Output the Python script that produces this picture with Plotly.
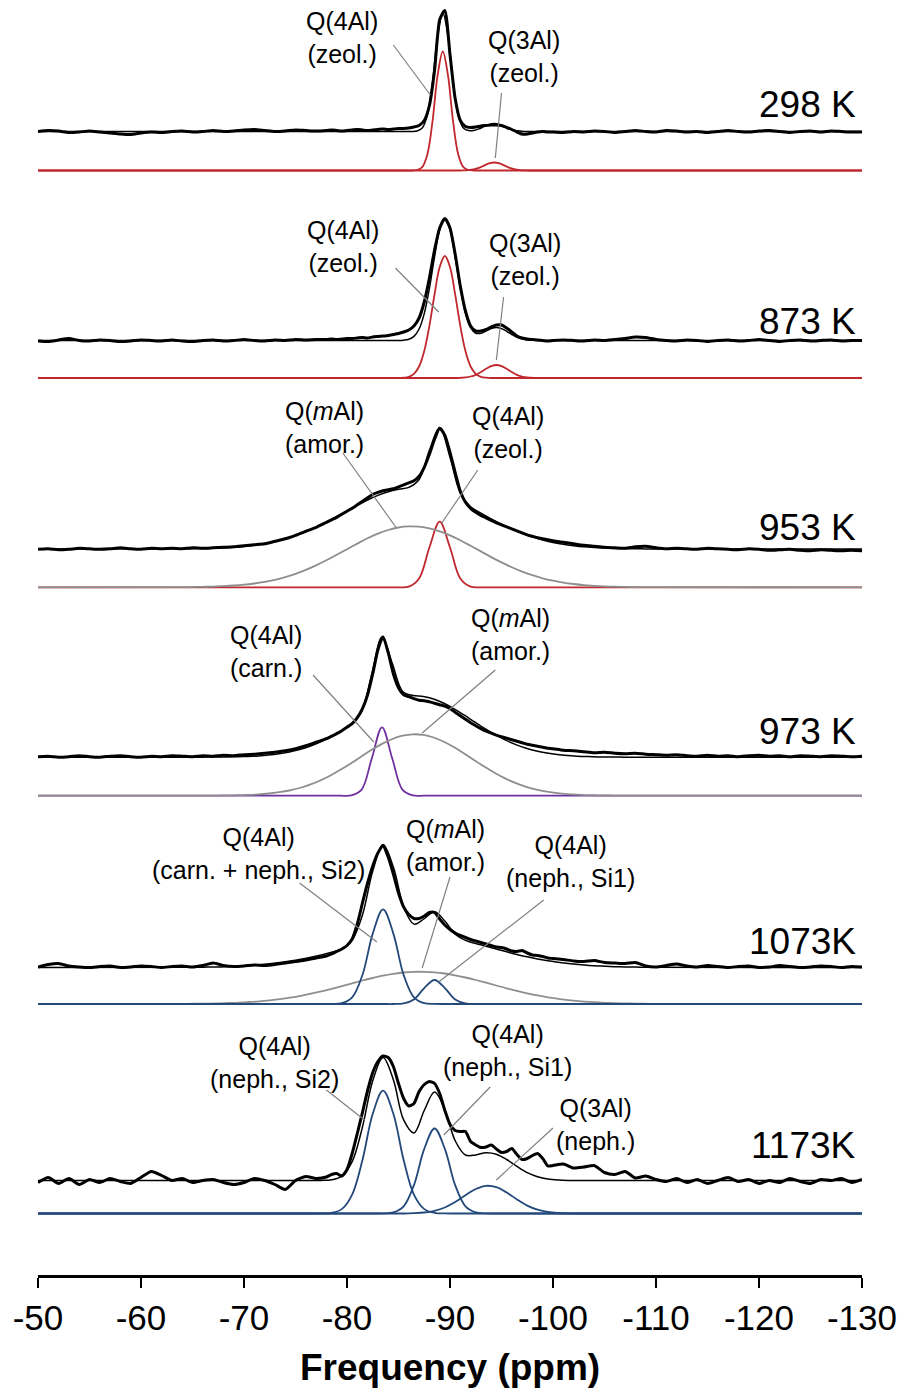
import plotly.graph_objects as go

# ------------------------------------------------------------------ data
X_MIN, X_MAX = -50.0, -130.0
X_TICKS = [-50, -60, -70, -80, -90, -100, -110, -120, -130]
X_TICK_TEXT = ["-50", "-60", "-70", "-80", "-90", "-100", "-110", "-120", "-130"]
TEMPS = ["298 K", "873 K", "953 K", "973 K", "1073K", "1173K"]

# experimental sampling positions (ppm): 1 ppm steps, 0.5 ppm in the peak region
X_EXP = ([-50.0 - i for i in range(28)]
         + [-78.0 - 0.5 * j for j in range(45)]
         + [-101.0 - k for k in range(30)])

EXP_298 = ([39, 40, 39.5, 38, 38.5, 39.5, 38.5, 37.5, 36.5, 36, 37.5, 38.5, 38, 39, 39.5,
            38.5, 39, 40, 39, 39.5, 40.5, 41, 40, 39, 39.5, 40.5, 40, 39.5]
           + [40, 40.5, 40, 39.5, 40, 40.5, 41, 40.5, 40, 40.5, 41, 41.5, 41, 41.5, 42,
              42, 42.5, 43.5, 45, 50, 65, 100, 151, 160, 116, 72, 50, 44, 43, 43.5,
              44.5, 45, 45.5, 45.5, 45, 43, 41, 38.5, 36.5, 36.5, 37.5, 38.5, 39, 38.5, 38.5]
           + [38, 39, 38.5, 39.5, 39, 38, 39, 40, 39, 38.5, 40, 39.5, 38.5, 39, 38,
              39, 40, 39, 38.5, 39.5, 40, 39, 38, 39, 39.5, 38.5, 39.5, 39, 38.5, 38.5])
EXP_873 = ([37, 36.5, 38, 39.5, 37.5, 37, 38, 37.5, 36.5, 37, 38, 37.5, 37, 38, 37,
            36.5, 37.5, 38, 37, 37.5, 38.5, 37.5, 37, 38, 37.5, 38.5, 38, 38.5]
           + [38.5, 39, 38.5, 39, 39.5, 39.5, 40, 40.5, 40, 41, 41.5, 42, 42.5, 43.5, 44.5,
              46, 48, 52, 60, 76, 100, 128, 150, 159.5, 150, 124, 92, 67, 52, 47,
              47, 48.5, 51, 53, 53, 50, 46, 42, 40, 39, 38.5, 38, 37.5, 37, 37.5]
           + [38, 37.5, 37, 38, 37.5, 38.5, 39.5, 41, 40.5, 38.5, 37.5, 37, 38, 37.5, 36.5,
              37.5, 38, 37, 37.5, 38.5, 37.5, 36.5, 37.5, 38, 37, 37.5, 38, 37, 37.5, 37.5])
EXP_953 = ([38, 38.5, 37.5, 38, 39, 38.5, 38, 38.5, 39.5, 38.5, 38, 39, 38.5, 39, 38.5,
            39.5, 39, 39.5, 40, 40.5, 41.5, 42.5, 43.5, 46, 48.5, 52, 56, 60]
           + [65, 67.5, 70, 73, 76, 79, 82.5, 86, 89.5, 93, 95, 96.5, 97.5, 98.5, 100.5,
              102.5, 104.5, 106.5, 111, 120, 133, 148, 159, 152, 135, 115, 96, 85, 79, 75,
              72, 69.5, 67, 64.5, 62.5, 60.5, 58.5, 56.5, 54.5, 52.5, 51, 49.5, 48.5, 47.5, 46.5]
           + [45, 43.5, 42, 41, 40, 39.5, 39, 40.5, 41, 39.5, 38.5, 39, 38.5, 38, 39,
              38.5, 38, 37.5, 38.5, 38, 37, 37.5, 38, 37, 36.5, 37.5, 37, 36.5, 37, 36.5])
EXP_973 = ([39, 39.5, 38.5, 39, 40, 39, 38.5, 39.5, 40, 39, 38.5, 39.5, 39, 40, 39.5,
            39, 40, 39.5, 40.5, 40, 41, 41.5, 42.5, 43.5, 45, 47, 50, 53.5]
           + [57, 59.5, 62, 65, 68.5, 72, 78, 87, 101, 122, 146, 159, 143, 122, 108,
              101, 99, 97, 95.5, 95, 94, 92.5, 91, 89.5, 87, 83.5, 80, 76.5, 73, 70,
              67, 64.5, 62.5, 60.5, 59, 57.5, 56, 54.5, 53, 51.5, 50.5, 49.5, 48.5, 47.5, 47]
           + [45.5, 45, 44, 43, 43.5, 42.5, 42, 42.5, 41.5, 41, 40.5, 41, 40, 39.5, 40.5,
              39.5, 40, 39, 40, 40.5, 39.5, 40, 39, 40, 39.5, 39, 40, 39.5, 39, 39.5])
EXP_1073 = ([37, 39.5, 40.5, 38, 37, 36.5, 37.5, 38, 36.5, 37, 38, 37.5, 36.5, 37.5, 38,
             37, 38.5, 41, 38.5, 37.5, 38, 39, 38.5, 39.5, 41, 42.5, 44, 46]
            + [48, 50, 52.5, 55, 58.5, 65, 80, 101, 121, 138, 151, 158, 147, 130, 111,
               97, 89.5, 85.5, 85.5, 88, 91.5, 91.5, 85, 79, 74.5, 71, 68.5, 66.5, 64.5, 63,
               61.5, 60, 58.5, 57, 56.5, 55, 53, 52.5, 53.5, 51, 49, 48.5, 47.5, 46, 45.5]
            + [44.5, 43, 42.5, 43.5, 41.5, 41, 40.5, 41.5, 38, 37, 38.5, 40, 38, 37, 38.5,
               37.5, 36.5, 37.5, 38, 36.5, 37, 38.5, 37.5, 36.5, 37, 38, 37.5, 36.5, 37.5, 37])
EXP_1173 = ([31, 36, 30, 35, 29, 34, 31, 35, 32, 30, 36, 42, 38, 33, 35,
             31, 33, 34, 31, 29, 31, 35, 33, 29, 24, 33, 37, 35]
            + [36.5, 39, 40, 37.5, 44, 60, 80, 101, 123, 141, 152, 157.5, 156, 147, 130,
               115, 107.5, 110, 122, 129, 132, 130, 120, 103, 89, 83, 82, 82, 72, 68.5,
               66, 66.5, 68.5, 64.5, 61, 62, 65, 59, 54, 55, 58, 60, 55, 47.5, 48]
            + [49.5, 45.5, 46.5, 48, 41, 39, 42, 35.5, 37.5, 34, 32, 35, 31, 34, 30,
               33, 36, 32, 34, 30, 33, 31, 35, 32, 30, 34, 33, 35, 31, 34])

# level of the fitted baseline above the component baseline, per spectrum
FIT_BASE = [39, 37.5, 38.3, 38.5, 36.5, 33]

# fitted components, sampled on a per-spectrum grid (ppm)
XC_298 = [-84.8 - 0.5 * i for i in range(28)]
Q4_ZEOL_298 = [0] * 4 + [0.5, 3.4, 16.1, 49.0, 95.3, 119.0, 95.3, 49.0, 16.1, 3.4, 0.5] + [0] * 13
Q3_ZEOL_298 = [0] * 13 + [0.1, 0.4, 1.1, 2.6, 4.9, 7.1, 8.0, 7.1, 4.9, 2.6, 1.1, 0.4, 0.1] + [0] * 2

XC_873 = [-84.5 - 0.5 * i for i in range(29)]
Q4_ZEOL_873 = [0] * 2 + [0.3, 1.2, 4.1, 11.5, 26.9, 52.1, 83.6, 111.0, 122.0, 111.0, 83.6, 52.1,
                         26.9, 11.5, 4.1, 1.2, 0.3] + [0] * 10
Q3_ZEOL_873 = [0] * 13 + [0.2, 0.6, 1.5, 3.2, 6.0, 9.2, 11.9, 13.0, 11.9, 9.2, 6.0, 3.2, 1.5,
                          0.6, 0.2] + [0] * 1

XC_953 = [-64.0 - i for i in range(47)]
Q4_ZEOL_953 = [0] * 22 + [0.7, 8.9, 39.8, 65.6, 39.8, 8.9, 0.7] + [0] * 18
QM_AMOR_953 = [0.2, 0.3, 0.5, 0.7, 1.2, 1.8, 2.6, 3.8, 5.4, 7.5, 10.2, 13.5, 17.4, 21.9, 27.0,
               32.5, 38.1, 43.7, 49.0, 53.6, 57.3, 59.8, 60.9, 60.6, 58.9, 55.9, 51.9, 47.0,
               41.5, 35.9, 30.2, 24.9, 20.0, 15.7, 12.1, 9.0, 6.6, 4.7, 3.3, 2.2, 1.5, 1.0,
               0.6, 0.4, 0.2, 0.1, 0.1]

XC_973 = [-64.4 - i for i in range(46)]
Q4_CARN_973 = [0] * 16 + [0.3, 5.8, 36.9, 68.4, 36.9, 5.8, 0.3] + [0] * 23
QM_AMOR_973 = [0.0, 0.0, 0.1, 0.1, 0.3, 0.5, 0.8, 1.3, 2.2, 3.5, 5.2, 7.7, 11.0, 15.2, 20.2,
               26.1, 32.5, 39.3, 45.9, 51.8, 56.7, 60.0, 61.4, 60.8, 58.2, 53.9, 48.4, 42.0,
               35.2, 28.6, 22.5, 17.1, 12.6, 8.9, 6.1, 4.1, 2.6, 1.6, 1.0, 0.6, 0.3, 0.2,
               0.1, 0.0, 0.0, 0.0]

XC_1073 = [-64.5 - i for i in range(46)]
QM_AMOR_1073 = [0.2, 0.3, 0.4, 0.6, 1.0, 1.4, 2.0, 2.7, 3.7, 4.9, 6.4, 8.2, 10.3, 12.6, 15.2,
                17.9, 20.7, 23.5, 26.0, 28.3, 30.1, 31.5, 32.2, 32.2, 31.7, 30.5, 28.7, 26.5,
                24.0, 21.3, 18.5, 15.7, 13.1, 10.7, 8.6, 6.7, 5.2, 3.9, 2.9, 2.1, 1.5, 1.0,
                0.7, 0.5, 0.3, 0.2]
Q4_SI2_1073 = [0] * 14 + [0.1, 0.8, 6.6, 29.0, 70.4, 94.7, 70.4, 29.0, 6.6, 0.8, 0.1] + [0] * 21
Q4_SI1_1073 = [0] * 21 + [0.6, 4.6, 15.9, 24.0, 15.9, 4.6, 0.6] + [0] * 18

XC_1173 = [-64.5 - i for i in range(46)]
Q4_SI2_1173 = [0] * 13 + [0.1, 0.7, 4.4, 18.9, 53.4, 99.7, 122.8, 99.7, 53.4, 18.9, 4.4, 0.7,
                          0.1] + [0] * 20
Q4_SI1_1173 = [0] * 19 + [0.1, 1.1, 7.2, 28.4, 64.6, 85.0, 64.6, 28.4, 7.2, 1.1, 0.1] + [0] * 16
Q3_NEPH_1173 = [0] * 22 + [0.3, 1.0, 2.7, 6.0, 11.4, 18.3, 24.5, 27.7, 26.3, 21.0, 14.1, 7.9,
                           3.8, 1.5, 0.5, 0.1] + [0] * 8

# ------------------------------------------------------------------ styles / layout
RED, GRAY, PURPLE, NAVY = "#C0282D", "#8E8E8E", "#7030A0", "#23497A"
FONT = "Liberation Sans, Arial, sans-serif"
PANEL_OFFSET = [1104.5, 897.0, 687.7, 479.3, 271.0, 61.5]   # vertical stacking offsets
TEMP_Y = [1171, 954, 748, 544, 334, 130]

panels = [
    (EXP_298, XC_298, [(Q4_ZEOL_298, RED), (Q3_ZEOL_298, RED)]),
    (EXP_873, XC_873, [(Q4_ZEOL_873, RED), (Q3_ZEOL_873, RED)]),
    (EXP_953, XC_953, [(Q4_ZEOL_953, RED), (QM_AMOR_953, GRAY)]),
    (EXP_973, XC_973, [(Q4_CARN_973, PURPLE), (QM_AMOR_973, GRAY)]),
    (EXP_1073, XC_1073, [(QM_AMOR_1073, GRAY), (Q4_SI2_1073, NAVY), (Q4_SI1_1073, NAVY)]),
    (EXP_1173, XC_1173, [(Q4_SI2_1173, NAVY), (Q4_SI1_1173, NAVY), (Q3_NEPH_1173, NAVY)]),
]

# labels: text, label x (ppm), label y, leader (x0, y0) -> (x1, y1)
LABELS = [
    ("Q(4Al)<br>(zeol.)", -79.5, 1238, -84.5, 1230, -88.1, 1180),
    ("Q(3Al)<br>(zeol.)", -97.2, 1219, -95.0, 1182, -94.4, 1117),
    ("Q(4Al)<br>(zeol.)", -79.6, 1029, -84.7, 1007, -88.9, 963),
    ("Q(3Al)<br>(zeol.)", -97.3, 1016, -95.2, 978, -94.5, 915),
    ("Q(<i>m</i>Al)<br>(amor.)", -77.8, 848, -79.6, 822, -84.8, 747),
    ("Q(4Al)<br>(zeol.)", -95.6, 843, -92.7, 805, -89.2, 752),
    ("Q(4Al)<br>(carn.)", -72.1, 624, -76.7, 600, -82.6, 533),
    ("Q(<i>m</i>Al)<br>(amor.)", -95.9, 641, -94.4, 605, -87.3, 542),
    ("Q(4Al)<br>(carn. + neph., Si2)", -71.4, 422, -75.4, 392, -82.9, 333),
    ("Q(<i>m</i>Al)<br>(amor.)", -89.6, 430, -90.0, 398, -87.3, 307),
    ("Q(4Al)<br>(neph., Si1)", -101.7, 414, -99.1, 375, -88.9, 293),
    ("Q(4Al)<br>(neph., Si2)", -73.0, 213, -78.0, 185, -81.7, 155),
    ("Q(4Al)<br>(neph., Si1)", -95.6, 225, -93.9, 188, -89.4, 140),
    ("Q(3Al)<br>(neph.)", -104.1, 151, -100.0, 147, -94.5, 95),
]

fig = go.Figure()
for (exp, xc, comps), off, base in zip(panels, PANEL_OFFSET, FIT_BASE):
    xs = [X_MIN] + xc + [X_MAX]
    for vals, col in comps:
        fig.add_trace(go.Scatter(
            x=xs, y=[off] + [off + v for v in vals] + [off], mode="lines",
            line=dict(color=col, width=1.8, shape="spline", smoothing=1.0),
            hoverinfo="skip", showlegend=False))
    fit = [base + sum(c[0][i] for c in comps) for i in range(len(xc))]
    fig.add_trace(go.Scatter(
        x=X_EXP, y=[off + v for v in exp], mode="lines",
        line=dict(color="black", width=3, shape="spline", smoothing=0.6),
        hoverinfo="skip", showlegend=False))
    fig.add_trace(go.Scatter(
        x=xs, y=[off + base] + [off + v for v in fit] + [off + base], mode="lines",
        line=dict(color="black", width=1.5, shape="spline", smoothing=1.0),
        hoverinfo="skip", showlegend=False))

annotations = []
shapes = []
for text, lx, ly, x0, y0, x1, y1 in LABELS:
    annotations.append(dict(x=lx, y=ly, xref="x", yref="y", text=text, showarrow=False,
                            xanchor="center", yanchor="middle", align="center",
                            font=dict(family=FONT, size=25, color="black")))
    shapes.append(dict(type="line", xref="x", yref="y", x0=x0, y0=y0, x1=x1, y1=y1,
                       line=dict(color="#808080", width=1.2)))
for t, ty in zip(TEMPS, TEMP_Y):
    annotations.append(dict(x=0.995, y=ty, xref="paper", yref="y", text=t, showarrow=False,
                            xanchor="right", yanchor="middle",
                            font=dict(family=FONT, size=37, color="black")))
annotations.append(dict(x=0.5, y=-92 / 1275, xref="paper", yref="paper",
                        text="<b>Frequency (ppm)</b>", showarrow=False,
                        xanchor="center", yanchor="middle",
                        font=dict(family=FONT, size=37, color="black")))

fig.update_layout(
    width=906, height=1393,
    margin=dict(l=38, r=44, t=0, b=118),
    paper_bgcolor="white", plot_bgcolor="white",
    showlegend=False,
    annotations=annotations, shapes=shapes,
    xaxis=dict(range=[X_MIN, X_MAX], tickvals=X_TICKS, ticktext=X_TICK_TEXT,
               showline=True, linecolor="black", linewidth=2.5, mirror=False,
               ticks="outside", ticklen=10, tickwidth=2, tickcolor="black",
               showgrid=False, zeroline=False,
               tickfont=dict(family=FONT, size=35, color="black")),
    yaxis=dict(range=[0, 1275], visible=False, showgrid=False, zeroline=False),
)
fig.write_html("out.html")
